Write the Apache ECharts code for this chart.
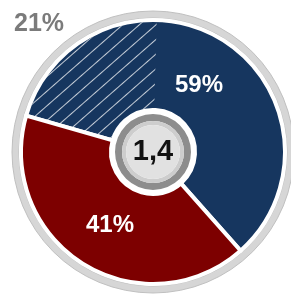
<!DOCTYPE html>
<html>
<head>
<meta charset="utf-8">
<script src="https://cdn.jsdelivr.net/npm/echarts@6/dist/echarts.min.js"></script>
<style>
  html, body { margin: 0; padding: 0; background: #fff; }
  #chart { width: 291px; height: 299px; }
</style>
</head>
<body>
<div id="chart"></div>
<script>
// slice values (percent)
const sliceNames = ['A', 'B'];
const sliceValues = [59, 41];
const sliceColors = ['#16365f', '#7d0000'];
// hatched part of the first slice
const hatchValue = 21;
const centerText = '1,4';

const center = [153, 152];
const font = 'Liberation Sans, Arial, sans-serif';
const labelOffsets = [[-2, 10], [5, -3]];

let chartDom = document.getElementById('chart');
let myChart = echarts.init(chartDom, null, { renderer: 'canvas' });

let option = {
  backgroundColor: '#fff',
  animation: false,
  title: {
    text: hatchValue + '%',
    left: 9,
    top: 7,
    textStyle: { color: '#7b7b7b', fontSize: 25, fontWeight: 'bold', fontFamily: font },
  },
  series: [
    {
      // outer grey ring
      type: 'pie',
      silent: true,
      center: center,
      radius: [134, 141],
      label: { show: false },
      data: [{ value: 1, itemStyle: { color: '#d6d6d6', borderColor: '#c0c0c0', borderWidth: 1 } }],
    },
    {
      type: 'pie',
      silent: true,
      center: center,
      radius: [42, 132],
      startAngle: 164,
      clockwise: true,
      itemStyle: { borderColor: '#fff', borderWidth: 4 },
      label: {
        show: true,
        position: 'inside',
        formatter: '{c}%',
        color: '#fff',
        fontSize: 24,
        fontWeight: 'bold',
        fontFamily: font,
      },
      labelLine: { show: false },
      data: sliceNames.map((n, i) => ({
        name: n,
        value: sliceValues[i],
        itemStyle: { color: sliceColors[i] },
        label: { offset: labelOffsets[i] },
      })),
    },
    {
      // hatch overlay
      type: 'pie',
      silent: true,
      center: center,
      radius: [44, 130],
      startAngle: 164,
      clockwise: true,
      label: { show: false },
      data: [
        {
          value: hatchValue,
          itemStyle: {
            color: 'rgba(0,0,0,0)',
            decal: {
              symbol: 'rect',
              color: 'rgba(255,255,255,0.75)',
              dashArrayX: [1, 0],
              dashArrayY: [1, 10],
              rotation: -0.72,
            },
          },
        },
        { value: 100 - hatchValue, itemStyle: { color: 'rgba(0,0,0,0)' } },
      ],
    },
    {
      type: 'pie',
      silent: true,
      center: center,
      radius: [31, 38],
      label: { show: false },
      data: [{ value: 1, itemStyle: { color: '#8d8d8d' } }],
    },
    {
      type: 'pie',
      silent: true,
      center: center,
      radius: [27, 31],
      label: { show: false },
      data: [{ value: 1, itemStyle: { color: '#cdcdcd' } }],
    },
    {
      type: 'pie',
      silent: true,
      center: center,
      radius: [0, 27],
      label: {
        show: true,
        position: 'center',
        formatter: centerText,
        color: '#111',
        fontSize: 29,
        fontWeight: 'bold',
        fontFamily: font,
      },
      data: [{ value: 1, itemStyle: { color: '#e1e1e1' } }],
    },
  ],
};

option && myChart.setOption(option);
</script>
</body>
</html>
